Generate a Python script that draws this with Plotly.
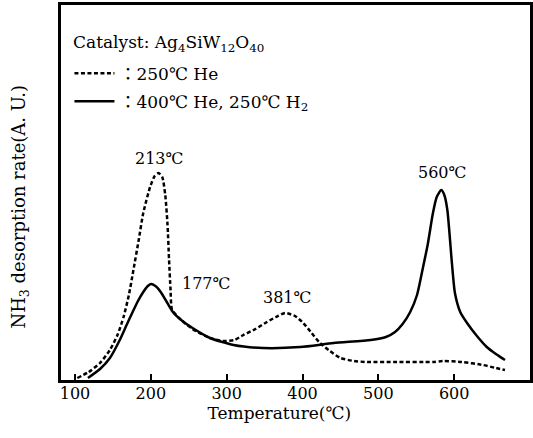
import plotly.graph_objects as go

# Dashed series: pretreatment 250 C He
temp_he = [103, 118, 133, 146, 156, 164, 171, 177, 184, 190, 199, 205, 210, 215, 219, 222, 224, 226, 228, 240, 255, 278, 295, 310, 322, 338, 353, 365, 377, 390, 401, 412, 423, 436, 450, 468, 485, 520, 572, 585, 610, 638, 655, 667]
rate_he = [2, 8, 17, 30, 45, 63, 85, 110, 140, 167, 193, 204, 207, 203, 185, 155, 120, 90, 70, 60, 51, 42, 39, 40, 45, 51, 58, 63, 67, 64, 57, 47, 37, 29, 22, 19, 18, 18, 18, 19, 18, 15, 12, 10]

# Solid series: pretreatment 400 C He, 250 C H2
temp_h2 = [117, 133, 146, 159, 168, 176, 183, 190, 196, 200, 206, 213, 221, 229, 240, 255, 278, 309, 348, 397, 441, 490, 510, 522, 532, 542, 551, 559, 565, 572, 577, 583, 587, 591, 597, 601, 608, 617, 630, 643, 655, 667]
rate_h2 = [2, 11, 22, 40, 55, 68, 79, 88, 94, 96, 94, 88, 78, 68, 60, 52, 42, 35, 32, 33, 37, 40, 43, 48, 56, 68, 85, 113, 135, 167, 183, 190, 185, 170, 117, 87, 68, 57, 44, 33, 26, 20]

peak_labels = ["213℃", "177℃", "381℃", "560℃"]
peak_label_x = [211, 273, 379, 584]
peak_label_y = [222, 97, 83, 208]

x_ticks = [100, 200, 300, 400, 500, 600]

serif = "DejaVu Serif, Noto Sans CJK JP, serif"

fig = go.Figure()
fig.add_trace(go.Scatter(
    x=temp_he, y=rate_he, mode="lines", name="：250℃ He",
    line=dict(color="black", width=2.5, dash="4px,2.5px", shape="spline", smoothing=0.6),
    legendgroup="a",
))
fig.add_trace(go.Scatter(
    x=temp_h2, y=rate_h2, mode="lines", name="：400℃ He, 250℃ H<sub>2</sub>",
    line=dict(color="black", width=2.5, shape="spline", smoothing=0.6),
    legendgroup="b",
))

for t, lx, ly in zip(peak_labels, peak_label_x, peak_label_y):
    fig.add_annotation(x=lx, y=ly, text=t, showarrow=False,
                       font=dict(family=serif, size=16, color="black"))

# legend heading (catalyst)
fig.add_annotation(xref="paper", yref="paper", x=0.022, y=(380 - 43) / 375,
                   xanchor="left", yanchor="middle", showarrow=False,
                   text="Catalyst: Ag<sub>4</sub>SiW<sub>12</sub>O<sub>40</sub>",
                   font=dict(family=serif, size=17, color="black"))

fig.update_layout(
    width=533, height=438,
    margin=dict(l=61, r=3, t=5, b=58),
    paper_bgcolor="white", plot_bgcolor="white",
    font=dict(family=serif, size=16, color="black"),
    showlegend=True,
    legend=dict(
        x=0.018, y=0.865, xanchor="left", yanchor="top",
        bgcolor="rgba(0,0,0,0)",
        font=dict(family=serif, size=17),
        tracegroupgap=3,
        itemwidth=40,
    ),
    xaxis=dict(
        range=[81.5, 700], tickvals=x_ticks, ticktext=[str(v) for v in x_ticks],
        ticks="inside", ticklen=6, tickwidth=2, tickcolor="black",
        showline=True, linewidth=2.5, linecolor="black", mirror=True,
        showgrid=False, zeroline=False, automargin=False,
        ticklabelstandoff=-3,
        title=dict(text="Temperature(℃)" + "&nbsp;" * 6,
                   font=dict(family=serif, size=17), standoff=6),
        tickfont=dict(family=serif, size=16),
    ),
    yaxis=dict(
        range=[0, 375], showticklabels=False, ticks="",
        showline=True, linewidth=2.5, linecolor="black", mirror=True,
        showgrid=False, zeroline=False, automargin=False,
        title=dict(text="NH<sub>3</sub> desorption rate(A. U.)" + "&nbsp;" * 5,
                   font=dict(family=serif, size=18), standoff=28),
    ),
)

fig.write_html("out.html", config={"displayModeBar": False},
               post_script="document.body.style.margin='0';document.body.style.overflow='hidden';")
